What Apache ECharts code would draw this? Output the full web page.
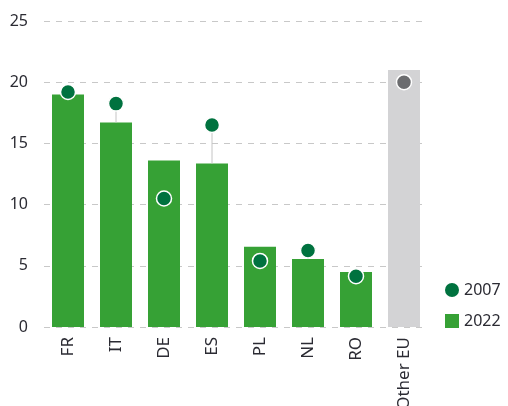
<!DOCTYPE html>
<html>
<head>
<meta charset="utf-8">
<script src="https://cdn.jsdelivr.net/npm/echarts@6/dist/echarts.min.js"></script>
<style>
  html, body { margin: 0; padding: 0; background: #fff; }
  #chart { width: 508px; height: 406px; }
</style>
</head>
<body>
<div id="chart"></div>
<script>
// Countries shown along the x axis
const countries = ['FR', 'IT', 'DE', 'ES', 'PL', 'NL', 'RO', 'Other EU'];
// Values for 2022 (bars) and 2007 (dots)
const values2022 = [19.0, 16.7, 13.6, 13.35, 6.55, 5.55, 4.5, 21.0];
const values2007 = [19.2, 18.25, 10.5, 16.5, 5.4, 6.25, 4.15, 20.0];
const yTicks = [0, 5, 10, 15, 20, 25];

const green = '#36a135';
const darkGreen = '#00723f';
const greyBar = '#d3d3d5';
const greyDot = '#6b6c6f';
const lastIdx = countries.length - 1;
const font = 'Noto Sans';

const chart = echarts.init(document.getElementById('chart'), null, { renderer: 'canvas' });

// Vertical connectors from the top of each bar up to the 2007 dot
const connectorData = countries.map((c, i) => [i, values2022[i], values2007[i]]);

chart.setOption({
  animation: false,
  textStyle: { fontFamily: font },
  grid: { left: 44, right: 80, top: 21, bottom: 79, containLabel: false, outerBoundsMode: 'none' },
  legend: {
    orient: 'vertical',
    left: 440,
    top: 277,
    itemWidth: 14,
    itemHeight: 14,
    itemGap: 15,
    textStyle: { fontSize: 16, color: '#2b2b33', fontFamily: font },
    data: [
      { name: '2007', icon: 'circle', itemStyle: { color: darkGreen, borderWidth: 0, opacity: 1 } },
      { name: '2022', icon: 'rect', itemStyle: { color: green } }
    ]
  },
  xAxis: {
    type: 'category',
    data: countries,
    axisLine: { show: false },
    axisTick: { show: false },
    axisLabel: {
      rotate: 90,
      margin: 10,
      fontSize: 17,
      color: '#2b2b33',
      fontFamily: font
    }
  },
  yAxis: {
    type: 'value',
    min: yTicks[0],
    max: yTicks[yTicks.length - 1],
    interval: 5,
    axisLine: { show: false },
    axisTick: { show: false },
    axisLabel: { fontSize: 16, color: '#2b2b33', margin: 16, fontFamily: font },
    splitLine: { lineStyle: { color: '#c8c8c8', type: [6, 6], width: 1 } }
  },
  series: [
    {
      name: '2022',
      type: 'bar',
      barWidth: 32,
      data: values2022.map((v, i) => ({
        value: v,
        itemStyle: { color: i === lastIdx ? greyBar : green }
      })),
      itemStyle: { color: green },
      z: 2
    },
    {
      name: 'connector',
      type: 'custom',
      silent: true,
      z: 3,
      data: connectorData,
      encode: { x: 0, y: [1, 2] },
      renderItem: function (params, api) {
        const lo = api.value(1), hi = api.value(2);
        if (hi <= lo) return null;
        const p1 = api.coord([api.value(0), lo]);
        const p2 = api.coord([api.value(0), hi]);
        return {
          type: 'line',
          shape: { x1: p1[0], y1: p1[1], x2: p2[0], y2: p2[1] },
          style: { stroke: '#c4c4c4', lineWidth: 1 }
        };
      }
    },
    {
      name: '2007',
      type: 'scatter',
      symbol: 'circle',
      symbolSize: 15,
      data: values2007.map((v, i) => ({
        value: [i, v],
        itemStyle: { color: i === lastIdx ? greyDot : darkGreen }
      })),
      itemStyle: { color: darkGreen, borderColor: '#ffffff', borderWidth: 1.5, opacity: 1 },
      z: 4
    }
  ]
});
</script>
</body>
</html>
